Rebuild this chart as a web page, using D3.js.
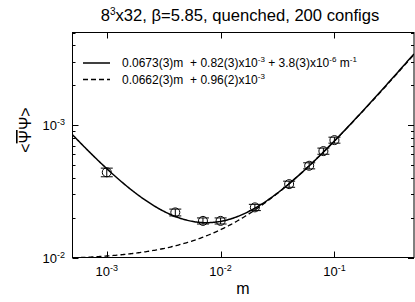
<!DOCTYPE html>
<html>
<head>
<meta charset="utf-8">
<script src="https://cdn.jsdelivr.net/npm/d3@7"></script>
<style>
body { margin: 0; background: #fff; }
text { font-family: "Liberation Sans", Arial, sans-serif; fill: #000; }
</style>
</head>
<body>
<svg id="chart"></svg>
<script>
var masses = [0.001, 0.004, 0.007, 0.01, 0.02, 0.04, 0.06, 0.08, 0.1]
var condensate = [0.0044, 0.00219, 0.00189, 0.00189, 0.00239, 0.00358, 0.00493, 0.00636, 0.0077]
var errors = [0.00033, 0.00013, 0.0001, 0.0001, 0.00013, 0.00019, 0.00026, 0.00034, 0.0004]

// fit coefficients from the legend: a*m + b + c/m
var fitSolid = [0.0673, 0.82e-3, 3.8e-6]
var fitDashed = [0.0662, 0.96e-3, 0]

var xTicks = [1e-3, 1e-2, 1e-1]
var xTickExp = ["-3", "-2", "-1"]
var yTicks = [1e-3, 1e-2]
var yTickExp = ["-2", "-3"]   // as printed on the original
var yMinor = [2e-3, 3e-3, 4e-3, 5e-3, 6e-3, 7e-3, 8e-3, 9e-3, 2e-2, 3e-2, 4e-2, 5e-2]

var screen = {width: 415, height: 302}
var box = {left: 72.5, right: 414, top: 32.5, bottom: 257.5}

var svg = d3.select("#chart")
    .attr("width", screen.width)
    .attr("height", screen.height)

var xScale = d3.scaleLog().domain([5e-4, 0.5]).range([box.left, box.right])
var yScale = d3.scaleLog().domain([1e-3, 0.05]).range([box.bottom, box.top])

svg.append("defs").append("clipPath").attr("id", "clip")
    .append("rect")
    .attr("x", box.left).attr("y", box.top)
    .attr("width", box.right - box.left).attr("height", box.bottom - box.top)

// ticks, inward on all four sides
var tickG = svg.append("g").attr("stroke", "#000").attr("stroke-width", 1)
xTicks.forEach(function(t) {
    var x = Math.round(xScale(t)) + 0.5
    tickG.append("line").attr("x1", x).attr("x2", x).attr("y1", box.bottom).attr("y2", box.bottom - 6)
    tickG.append("line").attr("x1", x).attr("x2", x).attr("y1", box.top).attr("y2", box.top + 6)
})
yTicks.concat(yMinor).forEach(function(t) {
    var len = yTicks.indexOf(t) >= 0 ? 6 : 3
    var y = Math.round(yScale(t)) + 0.5
    tickG.append("line").attr("x1", box.left).attr("x2", box.left + len).attr("y1", y).attr("y2", y)
    tickG.append("line").attr("x1", box.right).attr("x2", box.right - len).attr("y1", y).attr("y2", y)
})

// tick labels with superscript exponents
var xl = svg.selectAll(".xlab").data(xTicks).enter().append("text")
    .attr("class", "xlab")
    .attr("x", function(d) { return xScale(d) })
    .attr("y", 276)
    .attr("text-anchor", "middle")
    .style("font-size", "13px")
xl.append("tspan").text("10")
xl.append("tspan").attr("dy", -5).style("font-size", "9px").text(function(d, i) { return xTickExp[i] })

var yl = svg.selectAll(".ylab").data(yTicks).enter().append("text")
    .attr("class", "ylab")
    .attr("x", 65)
    .attr("y", function(d) { return yScale(d) + 5 })
    .attr("text-anchor", "end")
    .style("font-size", "13px")
yl.append("tspan").text("10")
yl.append("tspan").attr("dy", -5).style("font-size", "9px").text(function(d, i) { return yTickExp[i] })

// fit curves
var sampleM = d3.range(0, 301).map(function(i) {
    return xScale.invert(box.left + i * (box.right - box.left) / 300)
})
var fitLine = function(c) {
    return d3.line()
        .x(function(m) { return xScale(m) })
        .y(function(m) { return yScale(c[0] * m + c[1] + c[2] / m) })
}
var plot = svg.append("g").attr("clip-path", "url(#clip)")
plot.append("path").datum(sampleM)
    .attr("d", fitLine(fitDashed))
    .attr("fill", "none").attr("stroke", "#000").attr("stroke-width", 1.3)
    .attr("stroke-dasharray", "5,3")
plot.append("path").datum(sampleM)
    .attr("d", fitLine(fitSolid))
    .attr("fill", "none").attr("stroke", "#000").attr("stroke-width", 1.5)

// data points with error bars
var pts = masses.map(function(m, i) { return {m: m, y: condensate[i], e: errors[i]} })
var pg = svg.selectAll(".pt").data(pts).enter().append("g")
    .attr("class", "pt")
    .attr("stroke", "#000").attr("fill", "none").attr("stroke-width", 1)
pg.append("line")
    .attr("x1", function(d) { return xScale(d.m) }).attr("x2", function(d) { return xScale(d.m) })
    .attr("y1", function(d) { return yScale(d.y - d.e) }).attr("y2", function(d) { return yScale(d.y + d.e) })
pg.append("line")
    .attr("x1", function(d) { return xScale(d.m) - 6 }).attr("x2", function(d) { return xScale(d.m) + 6 })
    .attr("y1", function(d) { return yScale(d.y - d.e) }).attr("y2", function(d) { return yScale(d.y - d.e) })
pg.append("line")
    .attr("x1", function(d) { return xScale(d.m) - 6 }).attr("x2", function(d) { return xScale(d.m) + 6 })
    .attr("y1", function(d) { return yScale(d.y + d.e) }).attr("y2", function(d) { return yScale(d.y + d.e) })
pg.append("circle")
    .attr("cx", function(d) { return xScale(d.m) })
    .attr("cy", function(d) { return yScale(d.y) })
    .attr("r", 4.5)

// frame
svg.append("rect")
    .attr("x", box.left).attr("y", box.top)
    .attr("width", box.right - box.left).attr("height", box.bottom - box.top)
    .attr("fill", "none").attr("stroke", "#000").attr("stroke-width", 1)

// legend
var leg = [
    {dash: null, parts: [["0.0673(3)m  + 0.82(3)x10", 0], ["-3", 1], [" + 3.8(3)x10", 0], ["-6", 1], [" m", 0], ["-1", 1]]},
    {dash: "5,3", parts: [["0.0662(3)m  + 0.96(2)x10", 0], ["-3", 1]]}
]
leg.forEach(function(l, i) {
    var y = 63 + i * 16.5
    svg.append("line").attr("x1", 83).attr("x2", 110).attr("y1", y).attr("y2", y)
        .attr("stroke", "#000").attr("stroke-width", 1.5)
        .attr("stroke-dasharray", l.dash)
    var t = svg.append("text").attr("x", 122).attr("y", y + 4).style("font-size", "12px")
        .attr("xml:space", "preserve")
    var up = false
    l.parts.forEach(function(p) {
        var s = t.append("tspan").text(p[0])
        if (p[1] && !up) { s.attr("dy", -5).style("font-size", "8px"); up = true }
        else if (!p[1] && up) { s.attr("dy", 5); up = false }
        else if (p[1]) { s.style("font-size", "8px") }
    })
})

// title and axis labels
var title = svg.append("text").attr("x", 240).attr("y", 21).attr("text-anchor", "middle").style("font-size", "16.6px")
title.append("tspan").text("8")
title.append("tspan").attr("dy", -6).style("font-size", "10px").text("3")
title.append("tspan").attr("dy", 6).text("x32, β=5.85, quenched, 200 configs")

svg.append("text").attr("x", 243).attr("y", 294).attr("text-anchor", "middle").style("font-size", "16px").text("m")

var ylab = svg.append("text")
    .attr("transform", "translate(31,130) rotate(-90)")
    .attr("text-anchor", "middle")
    .style("font-size", "16px")
ylab.append("tspan").text("<")
ylab.append("tspan").style("text-decoration", "overline").text("\u03A8")
ylab.append("tspan").text("\u03A8>")
</script>
</body>
</html>
